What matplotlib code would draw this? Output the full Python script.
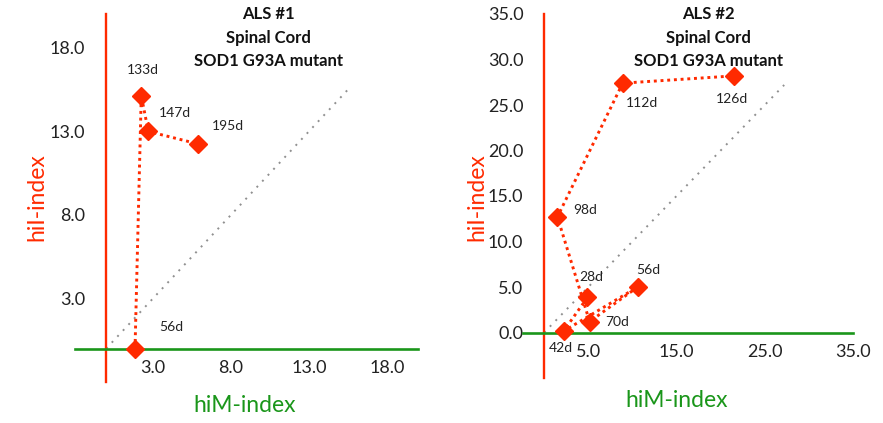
import numpy as np
import matplotlib.pyplot as plt

plt.rcParams['font.family'] = ['Lato', 'DejaVu Sans']

# ALS #1 data (hiM, hiI)
als1_days = ['56d', '133d', '147d', '195d']
als1_him = [1.85, 2.25, 2.7, 5.9]
als1_hii = [0.0, 15.15, 13.0, 12.25]
als1_lab_x = [4.2, 2.35, 4.4, 7.8]
als1_lab_y = [1.3, 16.65, 14.1, 13.3]

# ALS #2 data
als2_days = ['28d', '42d', '56d', '70d', '98d', '112d', '126d']
als2_him = [4.9, 2.2, 10.6, 5.15, 1.5, 8.9, 21.5]
als2_hii = [3.85, 0.15, 5.0, 1.2, 12.7, 27.4, 28.2]
als2_lab_x = [5.3, 1.9, 11.85, 8.3, 4.65, 11.1, 21.25]
als2_lab_y = [6.1, -1.75, 6.9, 1.2, 13.5, 25.2, 25.7]

RED = '#ff2a00'
GREEN = '#1a961a'
W, H = 883, 423

fig = plt.figure(figsize=(8.83, 4.23), dpi=100)


def px_axes(x0, x1, y0, y1):
    return fig.add_axes([x0 / W, (H - y1) / H, (x1 - x0) / W, (y1 - y0) / H])


def setup(ax, xlim, ylim, xticks, yticks, diag_end):
    ax.set_xlim(*xlim)
    ax.set_ylim(*ylim)
    ax.set_facecolor('none')
    for s in ['top', 'right']:
        ax.spines[s].set_visible(False)
    ax.spines['left'].set_position(('data', 0))
    ax.spines['bottom'].set_position(('data', 0))
    ax.spines['left'].set_color(RED)
    ax.spines['left'].set_linewidth(1.7)
    ax.spines['bottom'].set_color(GREEN)
    ax.spines['bottom'].set_linewidth(1.9)
    ax.set_xticks(xticks)
    ax.set_yticks(yticks)
    ax.set_xticklabels(['%.1f' % t for t in xticks])
    ax.set_yticklabels(['%.1f' % t for t in yticks])
    ax.tick_params(axis='x', length=0, pad=8, labelsize=13, labelcolor='#222222')
    ax.tick_params(axis='y', length=0, pad=15, labelsize=13, labelcolor='#222222')
    # diagonal reference line y = x
    ax.plot([0, diag_end], [0, diag_end], color='#909090', lw=1.4,
            linestyle=(0, (1, 3.2)), zorder=1)


# left panel
ax1 = px_axes(75, 418, 14.5, 382)
setup(ax1, (-2, 20), (-2, 20), [3, 8, 13, 18], [3, 8, 13, 18], 15.7)
ax1.plot(als1_him, als1_hii, color=RED, lw=2.1, linestyle=(0, (1, 1.3)),
         marker='D', markersize=9.5, zorder=3, clip_on=False)
for t, x, y in zip(als1_days, als1_lab_x, als1_lab_y):
    ax1.text(x, y, t, fontsize=10, ha='center', va='center', color='#222222')

# right panel
ax2 = px_axes(523, 853, 14, 378)
setup(ax2, (-2.4, 35), (-5, 35), [5, 15, 25, 35], [0, 5, 10, 15, 20, 25, 30, 35], 27.2)
ax2.plot(als2_him, als2_hii, color=RED, lw=2.1, linestyle=(0, (1, 1.3)),
         marker='D', markersize=9.5, zorder=3, clip_on=False)
for t, x, y in zip(als2_days, als2_lab_x, als2_lab_y):
    ax2.text(x, y, t, fontsize=10, ha='center', va='center', color='#222222')

# titles and axis labels
for cx, name in [(268, 'ALS #1'), (708, 'ALS #2')]:
    fig.text(cx / W, 1 - 37.5 / H, name + '\nSpinal Cord\nSOD1 G93A mutant',
             ha='center', va='center', fontsize=12, fontweight='bold',
             linespacing=1.6, color='#111111')

fig.text(37 / W, 1 - 197 / H, 'hiI-index', rotation=90, ha='center', va='center',
         fontsize=16.5, color=RED)
fig.text(245 / W, 1 - 405 / H, 'hiM-index', ha='center', va='center',
         fontsize=16.5, color=GREEN)
fig.text(477 / W, 1 - 197 / H, 'hiI-index', rotation=90, ha='center', va='center',
         fontsize=16.5, color=RED)
fig.text(677 / W, 1 - 400 / H, 'hiM-index', ha='center', va='center',
         fontsize=16.5, color=GREEN)

fig.savefig('out.png', dpi=100, facecolor='white')
